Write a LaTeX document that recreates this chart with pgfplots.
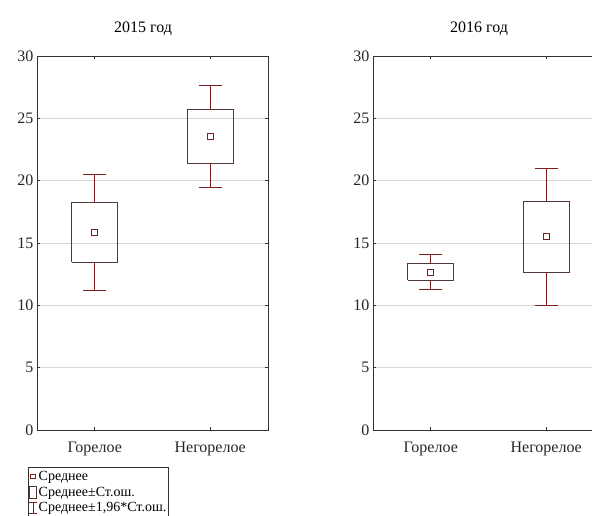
\documentclass[border=0pt]{standalone}
\usepackage{fontspec}
\setmainfont{Liberation Serif}
\usepackage{pgfplots}
\pgfplotsset{compat=1.18}
\definecolor{meanred}{RGB}{128,30,30}
\definecolor{boxbrown}{RGB}{85,55,55}
\definecolor{gridgray}{RGB}{215,215,215}
\definecolor{axisgray}{RGB}{50,50,50}
\pgfplotsset{
  myaxis/.style={
    scale only axis, width=231pt, height=374pt,
    xmin=-0.5, xmax=1.5, ymin=0, ymax=30,
    xtick={0,1}, xticklabels={Горелое, Негорелое},
    ytick={0,5,...,30},
    tick align=inside, tick pos=both,
    major tick length=3pt,
    ymajorgrids, grid style={gridgray, line width=0.8pt},
    axis line style={axisgray, line width=0.9pt},
    every tick/.style={axisgray, line width=0.8pt},
    /pgf/number format/assume math mode=true,
    tick label style={font=\fontsize{16}{19}\selectfont, text=black!85},
    xticklabel style={yshift=-8pt},
    title style={font=\fontsize{16}{19}\selectfont, at={(0.5,1)}, anchor=center, yshift=21pt, xshift=-9.5pt},
  },
  boxln/.style={boxbrown, line width=0.9pt, line join=miter, mark=none, forget plot},
  whln/.style={meanred, line width=0.9pt, mark=none, forget plot},
  meanmk/.style={only marks, mark=square, mark size=3pt, meanred, mark options={line width=0.9pt, draw=meanred}, forget plot},
}
\begin{document}
\begin{tikzpicture}[x=1pt,y=1pt]
\useasboundingbox (0,0) rectangle (592,515);
\clip (0,0) rectangle (592,515);
\begin{axis}[myaxis, at={(37pt,85pt)}, anchor=south west, title={2015 год},
  legend style={at={(-0.039,-0.099)}, anchor=north west, draw=axisgray, line width=0.8pt,
    font=\fontsize{14}{15}\selectfont, inner xsep=0.5pt, inner ysep=2.5pt, row sep=2.5pt,
    nodes={inner sep=1.2pt},
    cells={anchor=west}},
  legend cell align=left]
% Горелое 2015
\addplot[whln] coordinates {(0,18.27) (0,20.53)};
\addplot[whln] coordinates {(-0.1,20.53) (0.1,20.53)};
\addplot[whln] coordinates {(0,13.44) (0,11.17)};
\addplot[whln] coordinates {(-0.1,11.17) (0.1,11.17)};
\addplot[boxln] coordinates {(-0.2,13.44) (0.2,13.44) (0.2,18.27) (-0.2,18.27) (-0.2,13.44)};
% Негорелое 2015
\addplot[whln] coordinates {(1,25.70) (1,27.64)};
\addplot[whln] coordinates {(0.9,27.64) (1.1,27.64)};
\addplot[whln] coordinates {(1,21.42) (1,19.47)};
\addplot[whln] coordinates {(0.9,19.47) (1.1,19.47)};
\addplot[boxln] coordinates {(0.8,21.42) (1.2,21.42) (1.2,25.70) (0.8,25.70) (0.8,21.42)};
\addplot[meanmk] coordinates {(0,15.86) (1,23.56)};
\addlegendimage{legend image code/.code={\draw[meanred, line width=0.8pt] (1.5pt,-2.3pt) rectangle (6.1pt,2.3pt);}}
\addlegendentry{Среднее}
\addlegendimage{legend image code/.code={\draw[boxbrown, line width=0.8pt] (0.4pt,-6pt) rectangle (7.4pt,6pt);}}
\addlegendentry{Среднее±Ст.ош.}
\addlegendimage{legend image code/.code={\draw[meanred, line width=0.8pt] (3.9pt,-5.5pt)--(3.9pt,5.5pt) (0pt,-5.5pt)--(7.8pt,-5.5pt) (0pt,5.5pt)--(7.8pt,5.5pt);}}
\addlegendentry{Среднее±1,96*Ст.ош.}
\end{axis}
\begin{axis}[myaxis, at={(373pt,85pt)}, anchor=south west, title={2016 год}]
% Горелое 2016
\addplot[whln] coordinates {(0,13.36) (0,14.05)};
\addplot[whln] coordinates {(-0.1,14.05) (0.1,14.05)};
\addplot[whln] coordinates {(0,12.00) (0,11.30)};
\addplot[whln] coordinates {(-0.1,11.30) (0.1,11.30)};
\addplot[boxln] coordinates {(-0.2,12.00) (0.2,12.00) (0.2,13.36) (-0.2,13.36) (-0.2,12.00)};
% Негорелое 2016
\addplot[whln] coordinates {(1,18.37) (1,21.02)};
\addplot[whln] coordinates {(0.9,21.02) (1.1,21.02)};
\addplot[whln] coordinates {(1,12.66) (1,10.02)};
\addplot[whln] coordinates {(0.9,10.02) (1.1,10.02)};
\addplot[boxln] coordinates {(0.8,12.66) (1.2,12.66) (1.2,18.37) (0.8,18.37) (0.8,12.66)};
\addplot[meanmk] coordinates {(0,12.64) (1,15.49)};
\end{axis}
\end{tikzpicture}
\end{document}
